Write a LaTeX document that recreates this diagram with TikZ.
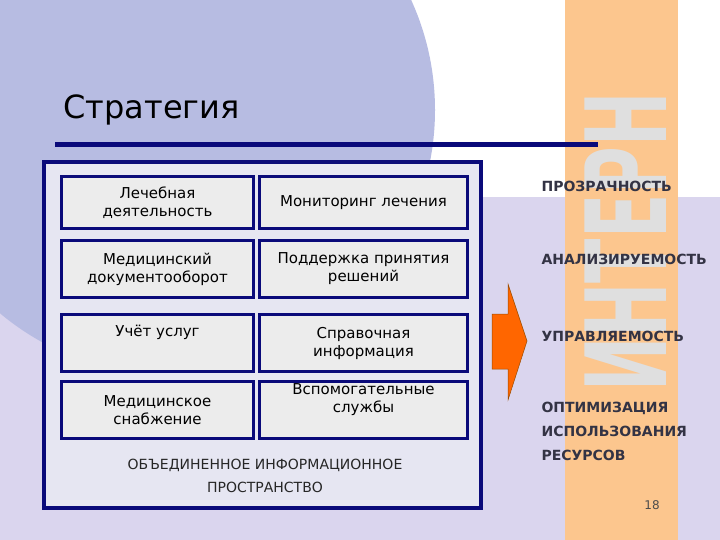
\documentclass[tikz,border=0pt]{standalone}
\usepackage{fontspec}
\setmainfont{DejaVu Sans}
\begin{document}
\begin{tikzpicture}[x=1pt,y=-1pt,
  cell/.style={draw=navy,line width=3pt,fill=cellg,anchor=north west,align=center,inner ysep=1pt,font=\fontsize{15}{18}\selectfont,text=black},
  rlab/.style={anchor=west,font=\bfseries\fontsize{14}{24}\selectfont,text=labc,align=left}]
\definecolor{navy}{HTML}{0A0A7A}
\definecolor{cellg}{HTML}{ECECEC}
\definecolor{labc}{HTML}{333344}
\definecolor{lav}{HTML}{DAD5EE}
\definecolor{circ}{HTML}{B7BCE2}
\definecolor{band}{HTML}{FCC68E}
\definecolor{panel}{HTML}{E6E6F2}
\useasboundingbox (0,0) rectangle (720,540);
\fill[white] (0,0) rectangle (720,540);
\fill[lav] (0,197) rectangle (720,540);
\begin{scope}
\clip (0,0) rectangle (720,540);
\fill[circ] (170,110) circle (265);
\end{scope}
\fill[band] (565,0) rectangle (678,540);
\begin{scope}
\clip (565,0) rectangle (678,540);
\node[rotate=90,anchor=west,text=gray!25,font=\bfseries\fontsize{112}{112}\selectfont,inner sep=0] (wm) at (626,392) {\scalebox{0.58}[1]{ИНТЕРН}};
\end{scope}
\node[anchor=west,font=\fontsize{32}{36}\selectfont,text=black] (title) at (60,110) {Стратегия};
\coordinate (l1) at (55,145); \coordinate (l2) at (598,145);
\draw[navy,line width=5pt] (l1) -- (l2);
\draw[navy,line width=4pt,fill=panel] (44,162) rectangle (481,508);
\foreach \y/\h/\a/\b [count=\i] in {175/52/{Лечебная\\деятельность}/{Мониторинг лечения},
  239/57/{Медицинский\\документооборот}/{Поддержка принятия\\решений},
  313/57/{Учёт услуг\\\strut}/{Справочная\\информация},
  380/57/{Медицинское\\снабжение}/{Вспомогательные\\службы\\\strut}}{
  \node[cell,minimum width=192pt,minimum height=\h pt] (a\i) at (60,\y) {\a};
  \node[cell,minimum width=208pt,minimum height=\h pt] (b\i) at (258,\y) {\b};
}
\node[align=center,font=\fontsize{14}{23}\selectfont,text=black!85] (oip) at (265,476) {ОБЪЕДИНЕННОЕ ИНФОРМАЦИОННОЕ\\ПРОСТРАНСТВО};
\fill[fill={rgb,255:red,255;green,102;blue,0},draw=orange!60!black,line width=0.5pt] (492,314) -- (508,314) -- (508,284) -- (527,341) -- (508,400) -- (508,369) -- (492,369) -- cycle;
\node[rlab] (p1) at (538,186) {ПРОЗРАЧНОСТЬ};
\node[rlab] (p2) at (538,259) {АНАЛИЗИРУЕМОСТЬ};
\node[rlab] (p3) at (538,336) {УПРАВЛЯЕМОСТЬ};
\node[rlab] (p4) at (538,431) {ОПТИМИЗАЦИЯ\\ИСПОЛЬЗОВАНИЯ\\РЕСУРСОВ};
\node[font=\fontsize{12}{14}\selectfont,text=black!70] (num) at (652,505) {18};
\end{tikzpicture}
\end{document}
